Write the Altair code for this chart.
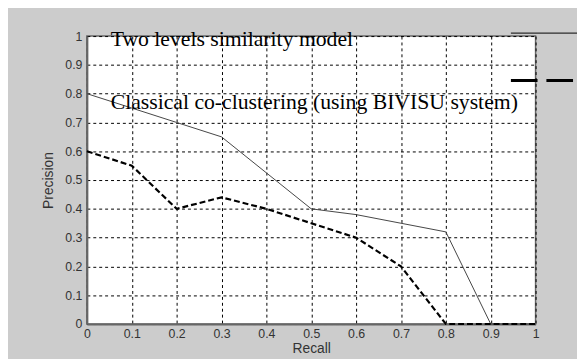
import altair as alt
import pandas as pd

recall = [0, 0.1, 0.2, 0.3, 0.4, 0.5, 0.6, 0.7, 0.8, 0.9, 1.0]
two_levels = [0.8, 0.75, 0.7, 0.65, 0.525, 0.4, 0.38, 0.35, 0.32, 0.0, 0.0]
classical = [0.6, 0.55, 0.4, 0.44, 0.4, 0.35, 0.3, 0.2, 0.0, 0.0, 0.0]
label_two = "Two levels similarity model"
label_classical = "Classical co-clustering (using BIVISU system)"
ticks = [0, 0.1, 0.2, 0.3, 0.4, 0.5, 0.6, 0.7, 0.8, 0.9, 1.0]

df_two = pd.DataFrame({"Recall": recall, "Precision": two_levels})
df_cls = pd.DataFrame({"Recall": recall, "Precision": classical})

xs = alt.Scale(domain=[0, 1], nice=False)
ys = alt.Scale(domain=[0, 1], nice=False)

common = dict(values=ticks, format="~g", grid=True, gridDash=[3, 3], gridColor="#000000",
              gridOpacity=1, gridWidth=1, ticks=False, labelOverlap=False,
              labelFont="Liberation Sans", labelFontSize=12.5, labelColor="#333333",
              titleFont="Liberation Sans", titleFontSize=14, titleFontWeight="normal",
              titleColor="#333333", domainColor="#666666", domainWidth=2, labelFlush=False)
x_axis = alt.Axis(title="Recall", labelPadding=4, titlePadding=1, **common)
y_axis = alt.Axis(title="Precision", labelPadding=5, titlePadding=9, **common)

X = lambda f: alt.X(f, scale=xs, axis=x_axis)
Y = lambda f: alt.Y(f, scale=ys, axis=y_axis)

line_two = alt.Chart(df_two).mark_line(color="#444444", strokeWidth=1).encode(
    x=X("Recall:Q"), y=Y("Precision:Q"))
line_cls = alt.Chart(df_cls).mark_line(color="#000000", strokeWidth=2.2, strokeDash=[6, 3]).encode(
    x=X("Recall:Q"), y=Y("Precision:Q"))

labels = pd.DataFrame({"text": [label_two, label_classical], "x": [0.053, 0.053], "y": [0.99, 0.77]})
text = alt.Chart(labels).mark_text(font="Liberation Serif", fontSize=22, align="left",
                                    baseline="middle", color="#000000").encode(
    x=X("x:Q"), y=Y("y:Q"), text="text:N")

# fragments of the (clipped) legend box on the right
leg_top = alt.Chart(pd.DataFrame({"a": [0.945], "b": [1.1], "y": [1.0103]})).mark_rule(
    color="#000000", strokeWidth=1, clip=False).encode(
    x=X("a:Q"), x2="b:Q", y=Y("y:Q"))
leg_dash = alt.Chart(pd.DataFrame({"a": [0.945], "b": [1.085], "y": [0.846]})).mark_rule(
    color="#000000", strokeWidth=3, strokeDash=[27, 9], clip=False).encode(
    x=X("a:Q"), x2="b:Q", y=Y("y:Q"))

chart = alt.layer(line_two, line_cls, text, leg_top, leg_dash).properties(
    width=455, height=292,
    autosize=alt.AutoSizeParams(type="none"),
    padding={"left": 80, "top": 26, "right": 42, "bottom": 33},
    background="#cccccc",
).configure_view(stroke="#666666", strokeWidth=1.5, fill="#ffffff"
).configure_axis(labelOverlap=False)

chart.save("out.html", embed_options={"renderer": "svg", "actions": False})
